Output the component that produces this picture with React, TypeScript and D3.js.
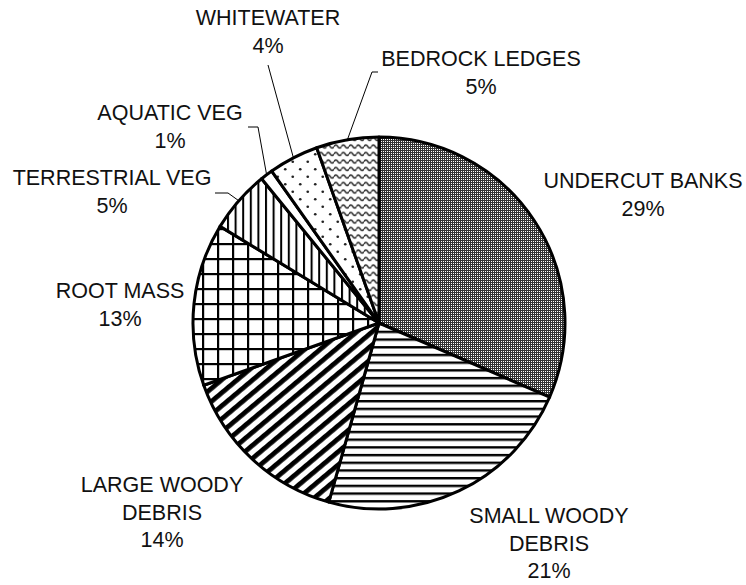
import React from "react";
import * as d3 from "d3";

const categories = [
  "UNDERCUT BANKS",
  "SMALL WOODY DEBRIS",
  "LARGE WOODY DEBRIS",
  "ROOT MASS",
  "TERRESTRIAL VEG",
  "AQUATIC VEG",
  "WHITEWATER",
  "BEDROCK LEDGES",
];
const values = [29, 21, 14, 13, 5, 1, 4, 5];
const labelLines = [
  ["UNDERCUT BANKS"],
  ["SMALL WOODY", "DEBRIS"],
  ["LARGE WOODY", "DEBRIS"],
  ["ROOT MASS"],
  ["TERRESTRIAL VEG"],
  ["AQUATIC VEG"],
  ["WHITEWATER"],
  ["BEDROCK LEDGES"],
];

// layout (not data): label anchor (center x, first baseline) and leader geometry
const labelLayout = [
  { x: 643, y: 188, leader: null },
  { x: 549, y: 523, leader: null },
  { x: 162, y: 492, leader: null },
  { x: 120, y: 298, leader: null },
  { x: 112, y: 185, leader: { elbow: [228, 193], end: [215, 193] } },
  { x: 170, y: 120, leader: { elbow: [258, 127], end: [248, 127] } },
  { x: 268, y: 25, leader: { elbow: null, end: [268, 65] } },
  { x: 481, y: 66, leader: { elbow: [372, 72], end: [378, 72] } },
];

const W = 746;
const H = 585;
const CX = 379;
const CY = 323;
const R = 186;
const LINE_H = 27.5;
const patternIds = ["pUB", "pSWD", "pLWD", "pRM", "pTV", "pAV", "pWW", "pBL"];

export default function App() {
  const pie = d3
    .pie<number>()
    .sort(null)
    .value((d) => d)
    .startAngle(0)
    .endAngle(2 * Math.PI);
  const arcs = pie(values);
  const arc = d3.arc<d3.PieArcDatum<number>>().innerRadius(0).outerRadius(R);

  return (
    <svg
      width={W}
      height={H}
      style={{ position: "absolute", left: 0, top: 0, background: "#fff" }}
      fontFamily="'Liberation Sans', Arial, sans-serif"
    >
      <defs>
        <pattern id="pUB" patternUnits="userSpaceOnUse" width={2} height={2}>
          <rect width={2} height={2} fill="#333" />
          <rect width={1} height={1} fill="#fff" />
        </pattern>
        <pattern id="pSWD" patternUnits="userSpaceOnUse" width={8} height={7.7}>
          <rect width={8} height={7.7} fill="#fff" />
          <rect y={0} width={8} height={2.4} fill="#000" />
        </pattern>
        <pattern
          id="pLWD"
          patternUnits="userSpaceOnUse"
          width={10}
          height={10}
          patternTransform="rotate(-40)"
        >
          <rect width={10} height={10} fill="#fff" />
          <rect y={0} width={10} height={4.8} fill="#000" />
        </pattern>
        <pattern id="pRM" patternUnits="userSpaceOnUse" width={15} height={15} x={3} y={10}>
          <rect width={15} height={15} fill="#fff" />
          <rect x={0} width={2.2} height={15} fill="#000" />
          <rect y={0} width={15} height={2.2} fill="#000" />
        </pattern>
        <pattern id="pTV" patternUnits="userSpaceOnUse" width={7.6} height={10}>
          <rect width={7.6} height={10} fill="#fff" />
          <rect x={0} width={2} height={10} fill="#000" />
        </pattern>
        <pattern id="pAV" patternUnits="userSpaceOnUse" width={10} height={10}>
          <rect width={10} height={10} fill="#fff" />
        </pattern>
        <pattern id="pWW" patternUnits="userSpaceOnUse" width={15} height={15}>
          <rect width={15} height={15} fill="#fff" />
          <circle cx={3.75} cy={3.75} r={1.35} fill="#222" />
          <circle cx={11.25} cy={11.25} r={1.35} fill="#222" />
        </pattern>
        <pattern id="pBL" patternUnits="userSpaceOnUse" width={7.5} height={7.5}>
          <rect width={7.5} height={7.5} fill="#fff" />
          <path
            d="M0,3.5 Q1.875,0.5 3.75,3.5 T7.5,3.5"
            fill="none"
            stroke="#333"
            strokeWidth={1.6}
          />
        </pattern>
      </defs>

      <g transform={`translate(${CX},${CY})`}>
        {arcs.map((a, i) => (
          <path
            key={categories[i]}
            d={arc(a) || ""}
            fill={`url(#${patternIds[i]})`}
            stroke="#000"
            strokeWidth={3}
            strokeLinejoin="round"
          />
        ))}
      </g>

      {arcs.map((a, i) => {
        const lay = labelLayout[i];
        if (!lay.leader) return null;
        const mid = (a.startAngle + a.endAngle) / 2;
        const sx = CX + R * Math.sin(mid);
        const sy = CY - R * Math.cos(mid);
        const pts: [number, number][] = [[sx, sy]];
        if (lay.leader.elbow) pts.push(lay.leader.elbow as [number, number]);
        pts.push(lay.leader.end as [number, number]);
        const line = d3.line()(pts) || "";
        return (
          <path key={"l" + i} d={line} fill="none" stroke="#000" strokeWidth={1} />
        );
      })}

      {categories.map((c, i) => {
        const lay = labelLayout[i];
        const lines = [...labelLines[i], `${values[i]}%`];
        return (
          <text
            key={"t" + c}
            x={lay.x}
            y={lay.y}
            textAnchor="middle"
            fontSize={21.5}
            fill="#111"
          >
            {lines.map((ln, j) => (
              <tspan key={j} x={lay.x} y={lay.y + j * LINE_H}>
                {ln}
              </tspan>
            ))}
          </text>
        );
      })}
    </svg>
  );
}
